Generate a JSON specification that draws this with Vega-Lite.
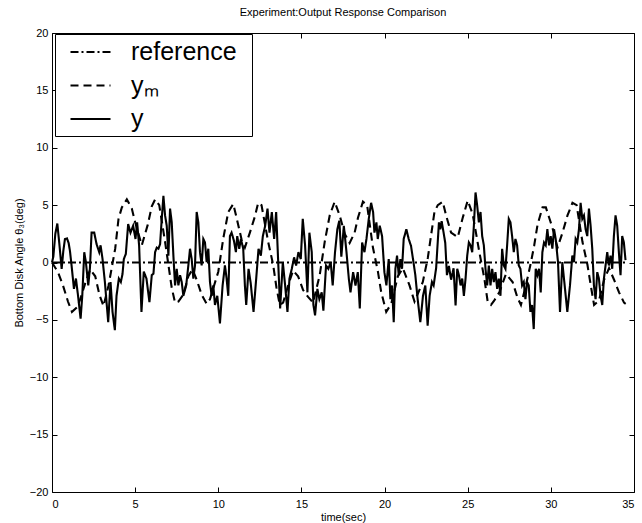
{
  "$schema": "https://vega.github.io/schema/vega-lite/v6.json",
  "width": 582,
  "height": 459,
  "autosize": {"type": "none"},
  "padding": {"left": 52, "top": 33, "right": 8, "bottom": 31},
  "background": "white",
  "title": {"text": "Experiment:Output Response Comparison", "fontSize": 11, "fontWeight": "normal", "font": "Liberation Sans", "offset": 9, "anchor": "middle", "color": "black"},
  "config": {
    "view": {"stroke": "black", "strokeWidth": 1},
    "font": "Liberation Sans",
    "axis": {"grid": false, "domain": false, "tickSize": -5, "tickColor": "black", "labelColor": "black", "labelFontSize": 11, "labelFont": "Liberation Sans", "titleFont": "Liberation Sans", "titleFontSize": 11, "titleFontWeight": "normal", "titleColor": "black", "labelPadding": 9},
    "legend": {"orient": "none", "legendX": 3, "legendY": 1, "direction": "vertical", "padding": 4, "strokeColor": "black", "fillColor": "white", "labelFontSize": 25, "labelFont": "Liberation Sans", "labelColor": "black", "symbolType": "M-1.6,0H1.6", "symbolSize": 625, "symbolStrokeWidth": 2.2, "symbolStrokeColor": "black", "symbolOffset": 17.5, "labelOffset": 26.5, "rowPadding": 6.5, "cornerRadius": 0}
  },
  "data": {"values": [
    {"t":0,"v":0,"s":"reference"},{"t":34.6,"v":0,"s":"reference"},
    {"t":0,"v":0,"s":"yₘ"},{"t":0.36,"v":-0.85,"s":"yₘ"},{"t":0.66,"v":-2.0,"s":"yₘ"},{"t":0.96,"v":-3.4,"s":"yₘ"},{"t":1.2,"v":-4.3,"s":"yₘ"},{"t":1.5,"v":-3.9,"s":"yₘ"},{"t":1.7,"v":-3.2,"s":"yₘ"},{"t":2.0,"v":-1.8,"s":"yₘ"},{"t":2.3,"v":-0.6,"s":"yₘ"},{"t":2.6,"v":-1.2,"s":"yₘ"},{"t":2.85,"v":-2.8,"s":"yₘ"},{"t":3.1,"v":-3.8,"s":"yₘ"},{"t":3.4,"v":-2.0,"s":"yₘ"},{"t":3.8,"v":1.2,"s":"yₘ"},{"t":4.0,"v":3.8,"s":"yₘ"},{"t":4.2,"v":4.8,"s":"yₘ"},{"t":4.5,"v":5.5,"s":"yₘ"},{"t":4.8,"v":4.7,"s":"yₘ"},{"t":5.0,"v":3.5,"s":"yₘ"},{"t":5.4,"v":1.5,"s":"yₘ"},{"t":5.76,"v":3.3,"s":"yₘ"},{"t":6.0,"v":4.9,"s":"yₘ"},{"t":6.2,"v":5.5,"s":"yₘ"},{"t":6.45,"v":5.0,"s":"yₘ"},{"t":6.8,"v":1.8,"s":"yₘ"},{"t":7.0,"v":-0.2,"s":"yₘ"},{"t":7.2,"v":-2.2,"s":"yₘ"},{"t":7.4,"v":-3.5,"s":"yₘ"},{"t":7.6,"v":-3.4,"s":"yₘ"},{"t":7.9,"v":-2.8,"s":"yₘ"},{"t":8.2,"v":-1.2,"s":"yₘ"},{"t":8.45,"v":-0.6,"s":"yₘ"},{"t":8.7,"v":-1.5,"s":"yₘ"},{"t":9.0,"v":-2.8,"s":"yₘ"},{"t":9.3,"v":-3.6,"s":"yₘ"},{"t":9.5,"v":-3.2,"s":"yₘ"},{"t":10.0,"v":-0.8,"s":"yₘ"},{"t":10.3,"v":2.1,"s":"yₘ"},{"t":10.6,"v":4.4,"s":"yₘ"},{"t":10.9,"v":5.1,"s":"yₘ"},{"t":11.1,"v":3.9,"s":"yₘ"},{"t":11.4,"v":2.0,"s":"yₘ"},{"t":11.6,"v":1.3,"s":"yₘ"},{"t":11.9,"v":2.6,"s":"yₘ"},{"t":12.2,"v":4.0,"s":"yₘ"},{"t":12.4,"v":5.2,"s":"yₘ"},{"t":12.6,"v":5.0,"s":"yₘ"},{"t":13.0,"v":1.8,"s":"yₘ"},{"t":13.3,"v":-0.2,"s":"yₘ"},{"t":13.5,"v":-2.2,"s":"yₘ"},{"t":13.7,"v":-3.7,"s":"yₘ"},{"t":13.9,"v":-3.5,"s":"yₘ"},{"t":14.2,"v":-2.0,"s":"yₘ"},{"t":14.5,"v":-0.7,"s":"yₘ"},{"t":14.8,"v":-1.2,"s":"yₘ"},{"t":15.1,"v":-2.4,"s":"yₘ"},{"t":15.4,"v":-3.0,"s":"yₘ"},{"t":15.7,"v":-3.5,"s":"yₘ"},{"t":16.1,"v":-1.1,"s":"yₘ"},{"t":16.4,"v":1.8,"s":"yₘ"},{"t":16.7,"v":4.1,"s":"yₘ"},{"t":17.0,"v":5.3,"s":"yₘ"},{"t":17.3,"v":4.1,"s":"yₘ"},{"t":17.6,"v":2.5,"s":"yₘ"},{"t":17.9,"v":1.7,"s":"yₘ"},{"t":18.2,"v":2.6,"s":"yₘ"},{"t":18.4,"v":3.9,"s":"yₘ"},{"t":18.7,"v":5.3,"s":"yₘ"},{"t":18.95,"v":5.0,"s":"yₘ"},{"t":19.3,"v":1.3,"s":"yₘ"},{"t":19.6,"v":-0.8,"s":"yₘ"},{"t":19.8,"v":-2.6,"s":"yₘ"},{"t":20.1,"v":-4.3,"s":"yₘ"},{"t":20.4,"v":-3.6,"s":"yₘ"},{"t":20.8,"v":-1.2,"s":"yₘ"},{"t":21.1,"v":-0.5,"s":"yₘ"},{"t":21.5,"v":-2.0,"s":"yₘ"},{"t":21.8,"v":-3.4,"s":"yₘ"},{"t":22.3,"v":-1.7,"s":"yₘ"},{"t":22.6,"v":0.4,"s":"yₘ"},{"t":22.8,"v":2.4,"s":"yₘ"},{"t":23.0,"v":4.4,"s":"yₘ"},{"t":23.2,"v":5.0,"s":"yₘ"},{"t":23.5,"v":5.3,"s":"yₘ"},{"t":23.7,"v":4.1,"s":"yₘ"},{"t":24.0,"v":2.6,"s":"yₘ"},{"t":24.4,"v":2.2,"s":"yₘ"},{"t":24.7,"v":3.9,"s":"yₘ"},{"t":25.0,"v":5.4,"s":"yₘ"},{"t":25.3,"v":4.2,"s":"yₘ"},{"t":25.7,"v":0.9,"s":"yₘ"},{"t":26.0,"v":-1.4,"s":"yₘ"},{"t":26.2,"v":-3.4,"s":"yₘ"},{"t":26.4,"v":-3.7,"s":"yₘ"},{"t":26.6,"v":-3.3,"s":"yₘ"},{"t":26.9,"v":-2.6,"s":"yₘ"},{"t":27.3,"v":-1.0,"s":"yₘ"},{"t":27.7,"v":-1.7,"s":"yₘ"},{"t":28.0,"v":-3.1,"s":"yₘ"},{"t":28.2,"v":-3.7,"s":"yₘ"},{"t":28.5,"v":-2.0,"s":"yₘ"},{"t":28.8,"v":0.0,"s":"yₘ"},{"t":29.0,"v":1.5,"s":"yₘ"},{"t":29.2,"v":3.3,"s":"yₘ"},{"t":29.5,"v":4.8,"s":"yₘ"},{"t":29.7,"v":4.8,"s":"yₘ"},{"t":29.9,"v":3.9,"s":"yₘ"},{"t":30.1,"v":3.0,"s":"yₘ"},{"t":30.4,"v":1.3,"s":"yₘ"},{"t":30.7,"v":2.6,"s":"yₘ"},{"t":31.0,"v":4.1,"s":"yₘ"},{"t":31.3,"v":5.2,"s":"yₘ"},{"t":31.55,"v":5.0,"s":"yₘ"},{"t":31.9,"v":1.8,"s":"yₘ"},{"t":32.2,"v":-0.2,"s":"yₘ"},{"t":32.4,"v":-2.0,"s":"yₘ"},{"t":32.6,"v":-3.7,"s":"yₘ"},{"t":32.9,"v":-3.3,"s":"yₘ"},{"t":33.2,"v":-1.5,"s":"yₘ"},{"t":33.5,"v":-0.5,"s":"yₘ"},{"t":33.8,"v":-1.5,"s":"yₘ"},{"t":34.1,"v":-2.6,"s":"yₘ"},{"t":34.4,"v":-3.5,"s":"yₘ"},{"t":34.5,"v":-3.6,"s":"yₘ"},
    {"t":0,"v":0,"s":"y"},{"t":0.08,"v":0.5,"s":"y"},{"t":0.2,"v":2.5,"s":"y"},{"t":0.32,"v":3.4,"s":"y"},{"t":0.45,"v":1.5,"s":"y"},{"t":0.58,"v":-0.55,"s":"y"},{"t":0.68,"v":1.0,"s":"y"},{"t":0.78,"v":2.05,"s":"y"},{"t":0.9,"v":2.1,"s":"y"},{"t":1.0,"v":1.7,"s":"y"},{"t":1.08,"v":1.0,"s":"y"},{"t":1.18,"v":-0.3,"s":"y"},{"t":1.32,"v":-2.3,"s":"y"},{"t":1.44,"v":-1.4,"s":"y"},{"t":1.55,"v":-2.7,"s":"y"},{"t":1.72,"v":-4.9,"s":"y"},{"t":1.82,"v":-2.9,"s":"y"},{"t":1.94,"v":0.9,"s":"y"},{"t":2.04,"v":0.0,"s":"y"},{"t":2.18,"v":-2.0,"s":"y"},{"t":2.28,"v":-0.5,"s":"y"},{"t":2.38,"v":2.6,"s":"y"},{"t":2.54,"v":2.6,"s":"y"},{"t":2.68,"v":1.6,"s":"y"},{"t":2.84,"v":0.9,"s":"y"},{"t":2.92,"v":1.5,"s":"y"},{"t":3.04,"v":0.3,"s":"y"},{"t":3.18,"v":-1.7,"s":"y"},{"t":3.38,"v":-5.2,"s":"y"},{"t":3.52,"v":-1.7,"s":"y"},{"t":3.64,"v":-4.3,"s":"y"},{"t":3.78,"v":-5.9,"s":"y"},{"t":3.88,"v":-2.9,"s":"y"},{"t":4.02,"v":-1.4,"s":"y"},{"t":4.14,"v":-1.7,"s":"y"},{"t":4.24,"v":-1.0,"s":"y"},{"t":4.32,"v":0.3,"s":"y"},{"t":4.44,"v":0.75,"s":"y"},{"t":4.58,"v":3.35,"s":"y"},{"t":4.72,"v":2.6,"s":"y"},{"t":4.88,"v":3.2,"s":"y"},{"t":5.02,"v":2.05,"s":"y"},{"t":5.12,"v":3.5,"s":"y"},{"t":5.24,"v":1.45,"s":"y"},{"t":5.38,"v":-4.3,"s":"y"},{"t":5.52,"v":-0.8,"s":"y"},{"t":5.68,"v":-1.4,"s":"y"},{"t":5.86,"v":-3.45,"s":"y"},{"t":6.0,"v":-1.1,"s":"y"},{"t":6.1,"v":-0.98,"s":"y"},{"t":6.2,"v":0.9,"s":"y"},{"t":6.3,"v":1.3,"s":"y"},{"t":6.4,"v":1.2,"s":"y"},{"t":6.5,"v":1.6,"s":"y"},{"t":6.6,"v":3.8,"s":"y"},{"t":6.7,"v":5.8,"s":"y"},{"t":6.8,"v":4.1,"s":"y"},{"t":6.9,"v":3.2,"s":"y"},{"t":7.0,"v":0.6,"s":"y"},{"t":7.1,"v":4.7,"s":"y"},{"t":7.2,"v":3.5,"s":"y"},{"t":7.3,"v":0.6,"s":"y"},{"t":7.4,"v":-2.0,"s":"y"},{"t":7.5,"v":-0.55,"s":"y"},{"t":7.6,"v":-2.0,"s":"y"},{"t":7.7,"v":-1.1,"s":"y"},{"t":7.8,"v":-1.7,"s":"y"},{"t":7.9,"v":-2.9,"s":"y"},{"t":8.07,"v":-2.0,"s":"y"},{"t":8.2,"v":-0.26,"s":"y"},{"t":8.3,"v":1.2,"s":"y"},{"t":8.4,"v":0.3,"s":"y"},{"t":8.5,"v":-1.4,"s":"y"},{"t":8.6,"v":-0.26,"s":"y"},{"t":8.7,"v":4.4,"s":"y"},{"t":8.8,"v":3.5,"s":"y"},{"t":8.9,"v":0.9,"s":"y"},{"t":9.0,"v":-0.26,"s":"y"},{"t":9.1,"v":2.05,"s":"y"},{"t":9.2,"v":1.75,"s":"y"},{"t":9.3,"v":0.03,"s":"y"},{"t":9.4,"v":1.2,"s":"y"},{"t":9.5,"v":-1.7,"s":"y"},{"t":9.6,"v":-2.9,"s":"y"},{"t":9.7,"v":-2.0,"s":"y"},{"t":9.8,"v":-3.7,"s":"y"},{"t":9.94,"v":-2.9,"s":"y"},{"t":10.1,"v":-5.3,"s":"y"},{"t":10.26,"v":-2.0,"s":"y"},{"t":10.4,"v":-0.26,"s":"y"},{"t":10.5,"v":-1.4,"s":"y"},{"t":10.6,"v":-2.9,"s":"y"},{"t":10.7,"v":2.3,"s":"y"},{"t":10.8,"v":2.6,"s":"y"},{"t":10.94,"v":1.9,"s":"y"},{"t":11.06,"v":0.9,"s":"y"},{"t":11.14,"v":2.3,"s":"y"},{"t":11.26,"v":1.2,"s":"y"},{"t":11.36,"v":2.05,"s":"y"},{"t":11.5,"v":1.2,"s":"y"},{"t":11.6,"v":-2.0,"s":"y"},{"t":11.68,"v":-3.7,"s":"y"},{"t":11.82,"v":-0.55,"s":"y"},{"t":11.95,"v":-1.8,"s":"y"},{"t":12.12,"v":-4.3,"s":"y"},{"t":12.28,"v":-1.4,"s":"y"},{"t":12.42,"v":1.2,"s":"y"},{"t":12.56,"v":0.6,"s":"y"},{"t":12.68,"v":2.3,"s":"y"},{"t":12.82,"v":3.2,"s":"y"},{"t":12.96,"v":4.7,"s":"y"},{"t":13.08,"v":2.6,"s":"y"},{"t":13.22,"v":4.4,"s":"y"},{"t":13.36,"v":2.05,"s":"y"},{"t":13.48,"v":4.4,"s":"y"},{"t":13.62,"v":-0.55,"s":"y"},{"t":13.72,"v":-4.0,"s":"y"},{"t":13.88,"v":0.03,"s":"y"},{"t":14.02,"v":-2.0,"s":"y"},{"t":14.16,"v":-4.3,"s":"y"},{"t":14.28,"v":-1.4,"s":"y"},{"t":14.42,"v":-0.55,"s":"y"},{"t":14.56,"v":0.45,"s":"y"},{"t":14.68,"v":-0.26,"s":"y"},{"t":14.82,"v":0.9,"s":"y"},{"t":14.96,"v":0.3,"s":"y"},{"t":15.08,"v":3.8,"s":"y"},{"t":15.22,"v":1.5,"s":"y"},{"t":15.36,"v":-2.6,"s":"y"},{"t":15.48,"v":2.6,"s":"y"},{"t":15.62,"v":0.9,"s":"y"},{"t":15.72,"v":-3.7,"s":"y"},{"t":15.82,"v":-4.6,"s":"y"},{"t":15.96,"v":-2.3,"s":"y"},{"t":16.08,"v":-3.2,"s":"y"},{"t":16.22,"v":-2.6,"s":"y"},{"t":16.32,"v":-4.2,"s":"y"},{"t":16.48,"v":-0.26,"s":"y"},{"t":16.62,"v":-0.55,"s":"y"},{"t":16.76,"v":0.03,"s":"y"},{"t":16.88,"v":-2.0,"s":"y"},{"t":17.02,"v":0.9,"s":"y"},{"t":17.16,"v":2.9,"s":"y"},{"t":17.28,"v":3.65,"s":"y"},{"t":17.4,"v":0.5,"s":"y"},{"t":17.55,"v":3.2,"s":"y"},{"t":17.71,"v":0.9,"s":"y"},{"t":17.85,"v":-1.4,"s":"y"},{"t":17.95,"v":-2.6,"s":"y"},{"t":18.11,"v":-0.84,"s":"y"},{"t":18.25,"v":-2.0,"s":"y"},{"t":18.39,"v":-0.84,"s":"y"},{"t":18.51,"v":-4.0,"s":"y"},{"t":18.65,"v":1.75,"s":"y"},{"t":18.79,"v":0.9,"s":"y"},{"t":18.91,"v":2.05,"s":"y"},{"t":19.05,"v":3.8,"s":"y"},{"t":19.19,"v":5.2,"s":"y"},{"t":19.31,"v":4.4,"s":"y"},{"t":19.39,"v":2.6,"s":"y"},{"t":19.51,"v":3.5,"s":"y"},{"t":19.59,"v":2.05,"s":"y"},{"t":19.71,"v":3.2,"s":"y"},{"t":19.85,"v":2.3,"s":"y"},{"t":19.99,"v":-0.84,"s":"y"},{"t":20.11,"v":-2.0,"s":"y"},{"t":20.25,"v":0.3,"s":"y"},{"t":20.35,"v":-3.2,"s":"y"},{"t":20.45,"v":-2.0,"s":"y"},{"t":20.55,"v":-5.2,"s":"y"},{"t":20.65,"v":-0.55,"s":"y"},{"t":20.75,"v":0.6,"s":"y"},{"t":20.85,"v":-1.1,"s":"y"},{"t":20.95,"v":0.3,"s":"y"},{"t":21.05,"v":-0.55,"s":"y"},{"t":21.15,"v":2.05,"s":"y"},{"t":21.31,"v":2.9,"s":"y"},{"t":21.45,"v":2.05,"s":"y"},{"t":21.59,"v":1.45,"s":"y"},{"t":21.71,"v":0.3,"s":"y"},{"t":21.85,"v":-1.1,"s":"y"},{"t":21.99,"v":-3.2,"s":"y"},{"t":22.15,"v":-5.2,"s":"y"},{"t":22.31,"v":-2.9,"s":"y"},{"t":22.45,"v":-2.0,"s":"y"},{"t":22.59,"v":-5.5,"s":"y"},{"t":22.71,"v":-2.9,"s":"y"},{"t":22.85,"v":-1.7,"s":"y"},{"t":22.95,"v":-2.0,"s":"y"},{"t":23.1,"v":-0.5,"s":"y"},{"t":23.27,"v":3.5,"s":"y"},{"t":23.35,"v":2.9,"s":"y"},{"t":23.43,"v":3.6,"s":"y"},{"t":23.55,"v":2.6,"s":"y"},{"t":23.65,"v":1.7,"s":"y"},{"t":23.75,"v":-1.1,"s":"y"},{"t":23.87,"v":-0.3,"s":"y"},{"t":24.0,"v":-1.5,"s":"y"},{"t":24.15,"v":-0.5,"s":"y"},{"t":24.27,"v":-3.75,"s":"y"},{"t":24.37,"v":-0.55,"s":"y"},{"t":24.47,"v":-1.1,"s":"y"},{"t":24.57,"v":-2.0,"s":"y"},{"t":24.67,"v":-1.4,"s":"y"},{"t":24.77,"v":-2.9,"s":"y"},{"t":24.87,"v":-1.4,"s":"y"},{"t":24.97,"v":0.6,"s":"y"},{"t":25.07,"v":1.75,"s":"y"},{"t":25.17,"v":1.5,"s":"y"},{"t":25.27,"v":0.9,"s":"y"},{"t":25.37,"v":3.2,"s":"y"},{"t":25.47,"v":6.1,"s":"y"},{"t":25.57,"v":4.95,"s":"y"},{"t":25.67,"v":3.5,"s":"y"},{"t":25.77,"v":4.4,"s":"y"},{"t":25.87,"v":2.3,"s":"y"},{"t":25.97,"v":1.5,"s":"y"},{"t":26.07,"v":-0.55,"s":"y"},{"t":26.17,"v":-2.0,"s":"y"},{"t":26.27,"v":-0.26,"s":"y"},{"t":26.37,"v":-2.0,"s":"y"},{"t":26.47,"v":-0.55,"s":"y"},{"t":26.57,"v":-1.7,"s":"y"},{"t":26.67,"v":-0.84,"s":"y"},{"t":26.77,"v":-2.3,"s":"y"},{"t":26.87,"v":-1.4,"s":"y"},{"t":26.97,"v":-2.9,"s":"y"},{"t":27.07,"v":1.2,"s":"y"},{"t":27.17,"v":-0.26,"s":"y"},{"t":27.27,"v":-0.55,"s":"y"},{"t":27.37,"v":1.5,"s":"y"},{"t":27.47,"v":3.8,"s":"y"},{"t":27.57,"v":3.5,"s":"y"},{"t":27.67,"v":2.3,"s":"y"},{"t":27.77,"v":0.9,"s":"y"},{"t":27.87,"v":2.05,"s":"y"},{"t":27.97,"v":1.5,"s":"y"},{"t":28.07,"v":-0.26,"s":"y"},{"t":28.17,"v":-0.55,"s":"y"},{"t":28.27,"v":-2.0,"s":"y"},{"t":28.37,"v":-1.7,"s":"y"},{"t":28.47,"v":-3.2,"s":"y"},{"t":28.57,"v":-1.7,"s":"y"},{"t":28.67,"v":-2.0,"s":"y"},{"t":28.77,"v":-4.3,"s":"y"},{"t":28.87,"v":-3.7,"s":"y"},{"t":28.97,"v":-5.8,"s":"y"},{"t":29.09,"v":-0.55,"s":"y"},{"t":29.19,"v":-1.1,"s":"y"},{"t":29.29,"v":-0.55,"s":"y"},{"t":29.39,"v":-2.6,"s":"y"},{"t":29.49,"v":0.9,"s":"y"},{"t":29.59,"v":1.75,"s":"y"},{"t":29.69,"v":1.5,"s":"y"},{"t":29.79,"v":2.9,"s":"y"},{"t":29.89,"v":1.5,"s":"y"},{"t":29.99,"v":2.3,"s":"y"},{"t":30.09,"v":1.2,"s":"y"},{"t":30.19,"v":2.9,"s":"y"},{"t":30.29,"v":2.05,"s":"y"},{"t":30.43,"v":0.03,"s":"y"},{"t":30.55,"v":-4.3,"s":"y"},{"t":30.69,"v":0.03,"s":"y"},{"t":30.83,"v":-2.0,"s":"y"},{"t":30.99,"v":-4.3,"s":"y"},{"t":31.15,"v":-2.0,"s":"y"},{"t":31.29,"v":0.6,"s":"y"},{"t":31.39,"v":0.03,"s":"y"},{"t":31.49,"v":2.05,"s":"y"},{"t":31.59,"v":1.75,"s":"y"},{"t":31.69,"v":2.9,"s":"y"},{"t":31.79,"v":5.2,"s":"y"},{"t":31.89,"v":3.8,"s":"y"},{"t":31.99,"v":4.1,"s":"y"},{"t":32.09,"v":2.9,"s":"y"},{"t":32.19,"v":2.3,"s":"y"},{"t":32.29,"v":4.7,"s":"y"},{"t":32.39,"v":3.2,"s":"y"},{"t":32.49,"v":1.2,"s":"y"},{"t":32.59,"v":-2.0,"s":"y"},{"t":32.69,"v":-3.2,"s":"y"},{"t":32.79,"v":-0.84,"s":"y"},{"t":32.89,"v":-1.4,"s":"y"},{"t":32.99,"v":-2.9,"s":"y"},{"t":33.09,"v":-3.7,"s":"y"},{"t":33.19,"v":-1.4,"s":"y"},{"t":33.29,"v":-0.26,"s":"y"},{"t":33.39,"v":0.9,"s":"y"},{"t":33.49,"v":-0.26,"s":"y"},{"t":33.59,"v":0.6,"s":"y"},{"t":33.69,"v":-0.55,"s":"y"},{"t":33.79,"v":2.3,"s":"y"},{"t":33.89,"v":4.1,"s":"y"},{"t":33.99,"v":3.2,"s":"y"},{"t":34.09,"v":0.9,"s":"y"},{"t":34.19,"v":-1.1,"s":"y"},{"t":34.29,"v":2.3,"s":"y"},{"t":34.39,"v":1.75,"s":"y"},{"t":34.49,"v":0.2,"s":"y"}
  ]},
  "layer": [
    {
      "mark": {"type": "line", "color": "black", "strokeWidth": 2.1},
      "encoding": {
        "x": {"field": "t", "type": "quantitative", "scale": {"domain": [0, 35], "nice": false, "zero": false},
              "axis": {"orient": "bottom", "values": [0,5,10,15,20,25,30,35], "title": "time(sec)", "titlePadding": 2, "labelPadding": 11}},
        "y": {"field": "v", "type": "quantitative", "scale": {"domain": [-20, 20], "nice": false},
              "axis": {"orient": "left", "values": [-20,-15,-10,-5,0,5,10,15,20], "title": "Bottom Disk Angle θ₃(deg)", "titlePadding": 5}},
        "strokeDash": {"field": "s", "type": "nominal",
              "scale": {"domain": ["reference", "yₘ", "y"], "range": [[8,3,2,3],[8,5],[1,0]]},
              "legend": {"title": ".", "titleOrient": "right", "titleColor": "white", "titleFontSize": 8, "titlePadding": 8}}
      }
    },
    {
      "transform": [{"filter": "datum.s === 'reference'"}],
      "mark": {"type": "point", "opacity": 0},
      "encoding": {
        "x": {"field": "t", "type": "quantitative",
              "axis": {"orient": "top", "values": [0,5,10,15,20,25,30,35], "labels": false, "title": null}},
        "y": {"field": "v", "type": "quantitative",
              "axis": {"orient": "right", "values": [-20,-15,-10,-5,0,5,10,15,20], "labels": false, "title": null}}
      }
    }
  ],
  "resolve": {"axis": {"x": "independent", "y": "independent"}}
}
